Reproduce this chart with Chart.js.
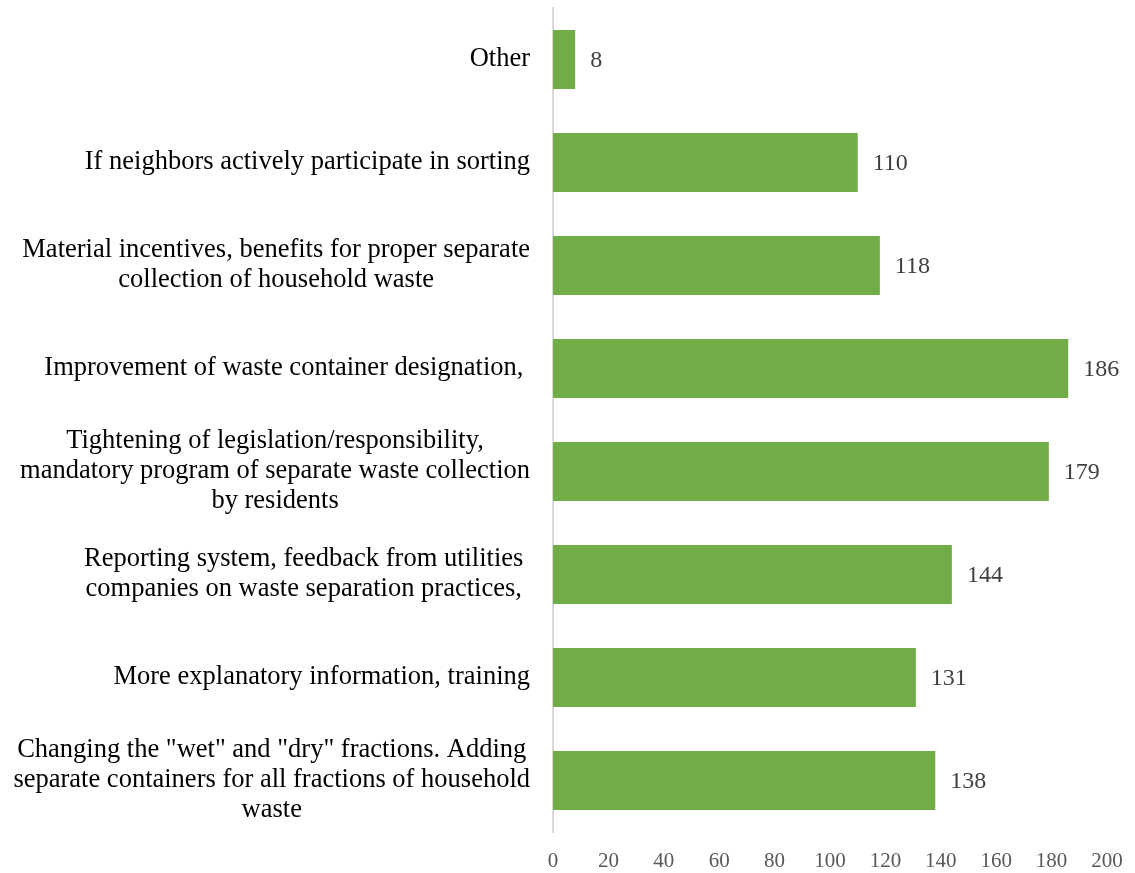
<!DOCTYPE html>
<html>
<head>
<meta charset="utf-8">
<style>
  html, body { margin: 0; padding: 0; background: #ffffff; }
  #c { display: block; }
  #probe { position: absolute; left: -9999px; top: 0; font-family: "Liberation Serif"; font-size: 22px; }
</style>
<script src="https://cdn.jsdelivr.net/npm/chart.js@4.4.1/dist/chart.umd.min.js"></script>
</head>
<body>
<span id="probe">Aa 0123</span>
<canvas id="c" width="1135" height="873"></canvas>
<script>
// Survey answers: what would encourage residents to sort household waste
const categories = [
  ['Other'],
  ['If neighbors actively participate in sorting'],
  ['Material incentives, benefits for proper separate', 'collection of household waste'],
  ['Improvement of waste container designation, '],
  ['Tightening of legislation/responsibility,', 'mandatory program of separate waste collection', 'by residents'],
  ['Reporting system, feedback from utilities ', 'companies on waste separation practices, '],
  ['More explanatory information, training'],
  ['Changing the "wet" and "dry" fractions. Adding', 'separate containers for all fractions of household', 'waste']
];
const responses = [8, 110, 118, 186, 179, 144, 131, 138];
const xTicks = [0, 20, 40, 60, 80, 100, 120, 140, 160, 180, 200];

const SERIF = '"Liberation Serif", "Times New Roman", Tinos, serif';

// Multi-line category labels, each block centred on its own widest line
const categoryLabels = {
  id: 'categoryLabels',
  afterDraw(chart) {
    const ctx = chart.ctx;
    const y = chart.scales.y;
    const rightEdge = y.right - 23;
    const lineH = 30;
    ctx.save();
    ctx.font = '26.5px ' + SERIF;
    ctx.fillStyle = '#000000';
    ctx.textAlign = 'center';
    ctx.textBaseline = 'middle';
    categories.forEach((lines, i) => {
      const cy = y.getPixelForValue(i);
      const widest = Math.max(...lines.map(l => ctx.measureText(l).width));
      const cx = rightEdge - widest / 2;
      const top = cy - (lines.length - 1) * lineH / 2;
      lines.forEach((l, k) => ctx.fillText(l, cx, top + k * lineH));
    });
    ctx.restore();
  }
};

// Value printed just past the end of every bar
const valueLabels = {
  id: 'valueLabels',
  afterDatasetsDraw(chart) {
    const ctx = chart.ctx;
    const meta = chart.getDatasetMeta(0);
    ctx.save();
    ctx.font = '24px ' + SERIF;
    ctx.fillStyle = '#404040';
    ctx.textAlign = 'left';
    ctx.textBaseline = 'middle';
    meta.data.forEach((bar, i) => {
      ctx.fillText(String(chart.data.datasets[0].data[i]), bar.x + 15, bar.y + 1);
    });
    ctx.restore();
  }
};

function build() {
  new Chart(document.getElementById('c'), {
    type: 'bar',
    data: {
      labels: categories.map(l => l.join(' ')),
      datasets: [{
        data: responses,
        backgroundColor: '#70AD47',
        borderWidth: 0,
        barPercentage: 0.575,
        categoryPercentage: 1
      }]
    },
    options: {
      indexAxis: 'y',
      responsive: false,
      animation: false,
      devicePixelRatio: 1,
      layout: { padding: { top: 8, right: 28, bottom: 0, left: 0 } },
      plugins: {
        legend: { display: false },
        tooltip: { enabled: false }
      },
      scales: {
        x: {
          type: 'linear',
          min: 0,
          max: 200,
          afterBuildTicks(scale) { scale.ticks = xTicks.map(v => ({ value: v })); },
          afterFit(scale) { scale.height = 41; },
          grid: { display: false },
          border: { display: false },
          ticks: {
            padding: 9,
            color: '#595959',
            font: { family: SERIF, size: 21 }
          }
        },
        y: {
          type: 'category',
          offset: true,
          afterFit(scale) { scale.width = 553; },
          grid: { display: false },
          border: { display: true, color: '#D9D9D9', width: 2 },
          ticks: { display: false }
        }
      }
    },
    plugins: [categoryLabels, valueLabels]
  });
}

Promise.all([
  document.fonts.load('22px "Liberation Serif"'),
  document.fonts.load('20px "Liberation Serif"')
]).then(build, build);
</script>
</body>
</html>
